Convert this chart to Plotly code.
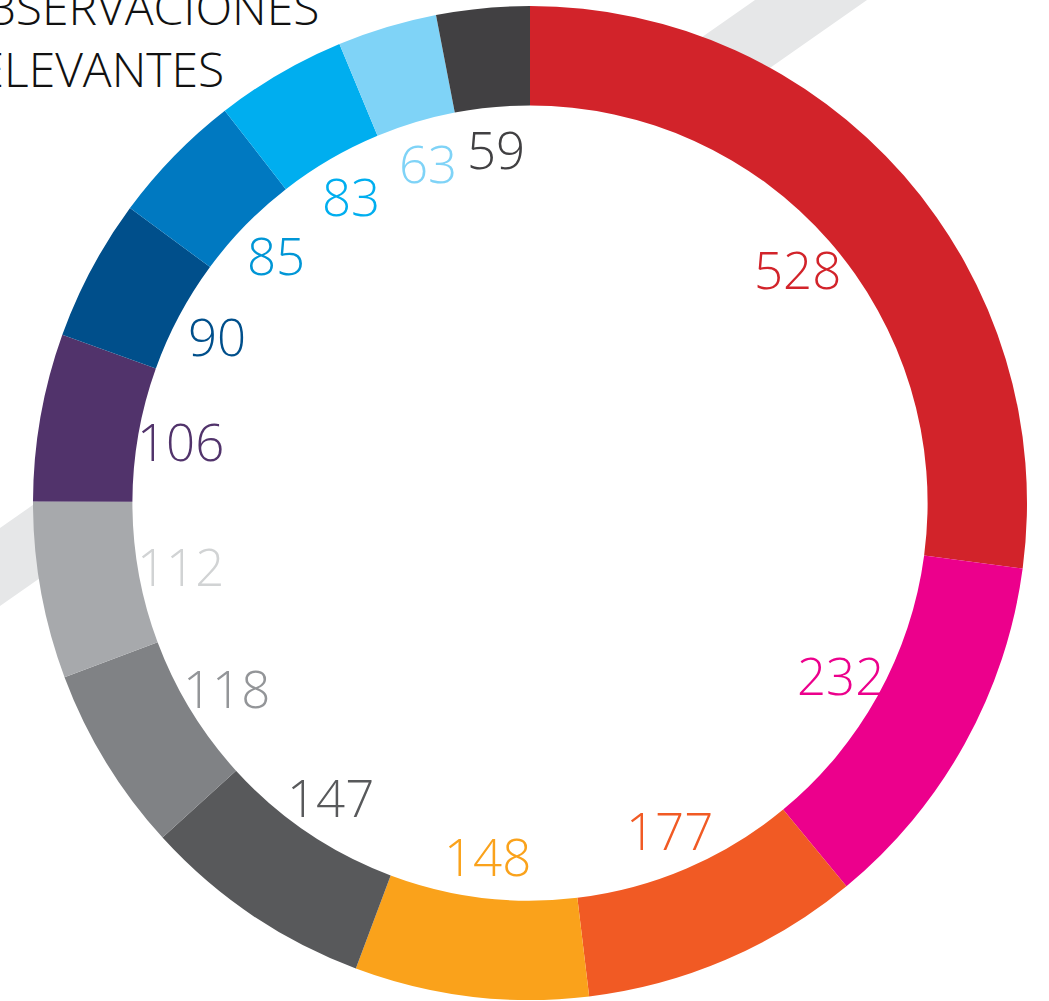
import math
import plotly.graph_objects as go

# ---- data ----
values = [528, 232, 177, 148, 147, 118, 112, 106, 90, 85, 83, 63, 59]
labels = [str(v) for v in values]
slice_colors = ["#d2232a", "#ec008c", "#f15a24", "#faa21b", "#58595b", "#808285",
                "#a7a9ac", "#51336b", "#004f8b", "#0079c1", "#00aeef", "#7fd3f7", "#414042"]
label_colors = ["#d2232a", "#ec008c", "#f15a24", "#faa21b", "#58595b", "#939598",
                "#d1d3d4", "#51336b", "#004f8b", "#0096d6", "#00aeef", "#7fd3f7", "#414042"]
title_lines = ["OBSERVACIONES", "RELEVANTES"]

W, H = 1049, 1001
# pie geometry (pixels)
cx, cy, R = 530, 503, 497

fig = go.Figure()
fig.add_trace(go.Pie(
    values=values,
    labels=labels,
    sort=False,
    direction="clockwise",
    rotation=0,
    hole=0.8,
    marker=dict(colors=slice_colors, line=dict(width=0)),
    textinfo="none",
    hoverinfo="none",
    showlegend=False,
    domain=dict(x=[(cx - R) / W, (cx + R) / W],
                y=[max(0, 1 - (cy + R) / H), min(1, 1 - (cy - R) / H)]),
))


def px2paper(x, y):
    return x / W, 1 - y / H


# background diagonal band (decoration) and white hole mask
slope = 0.699
p = []
for (x, y) in [(-10, 528 + 10 * slope), (755 + 40, -40 * slope),
               (867 + 40, -40 * slope), (-10, 606 + 10 * slope)]:
    p.append(px2paper(x, y))
path = "M {} {} L {} {} L {} {} L {} {} Z".format(*[c for pt in p for c in pt])
shapes = [
    dict(type="path", xref="paper", yref="paper", path=path,
         fillcolor="#e6e7e8", line=dict(width=0), layer="below"),
]
rh = R * 0.8 + 1
x0, y0 = px2paper(cx - rh, cy + rh)
x1, y1 = px2paper(cx + rh, cy - rh)
shapes.append(dict(type="circle", xref="paper", yref="paper", x0=x0, y0=y0, x1=x1, y1=y1,
                   fillcolor="white", line=dict(width=0), layer="below"))

# value labels inside the hole at slice mid-angles
total = sum(values)
annotations = []
cum = 0
rl = R * 0.715
for v, lab, col in zip(values, labels, label_colors):
    th = math.radians((cum + v / 2) / total * 360)
    cum += v
    lx, ly = px2paper(cx + rl * math.sin(th), cy - rl * math.cos(th))
    annotations.append(dict(x=lx, y=ly, xref="paper", yref="paper", text=lab,
                            showarrow=False, xanchor="center", yanchor="middle",
                            font=dict(family="Open Sans", size=51, color=col, weight=300)))

tx, ty = px2paper(-53, -28)
annotations.append(dict(x=tx, y=ty, xref="paper", yref="paper",
                        text="<br>".join(title_lines), showarrow=False,
                        xanchor="left", yanchor="top", align="left",
                        font=dict(family="Open Sans", size=48, color="#111111", weight=300)))

fig.update_layout(
    width=W, height=H,
    margin=dict(l=0, r=0, t=0, b=0),
    paper_bgcolor="white", plot_bgcolor="white",
    shapes=shapes,
    annotations=annotations,
)
fig.write_html("out.html", config={"displayModeBar": False},
               post_script="document.body.style.margin='0';")
